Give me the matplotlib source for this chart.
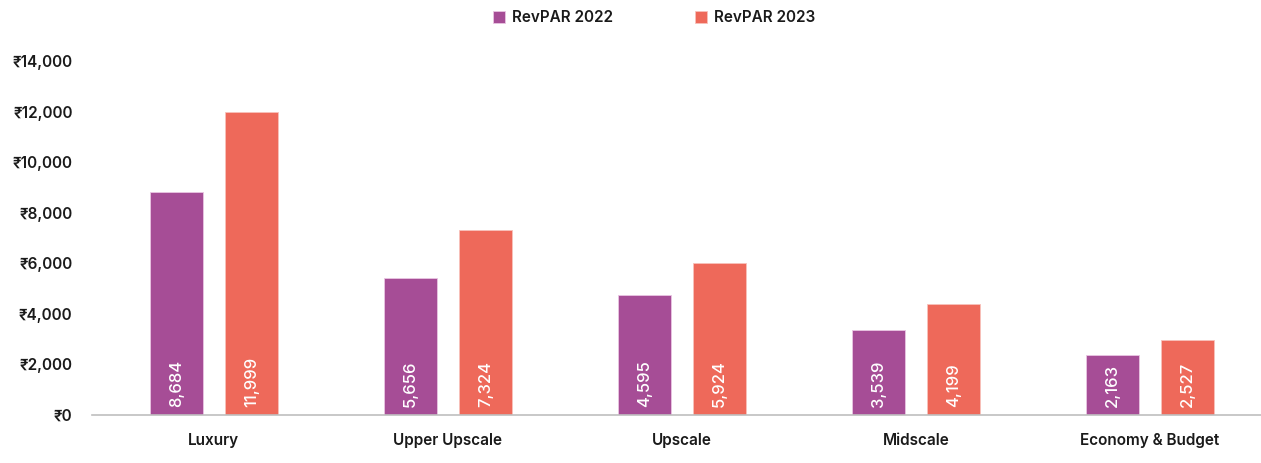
import numpy as np
import matplotlib
matplotlib.use("Agg")
import matplotlib.pyplot as plt
from matplotlib.ticker import FuncFormatter

# ==========================
# DATA
# ==========================

categories = ["Luxury", "Upper Upscale", "Upscale", "Midscale", "Economy & Budget"]
series_names = ["RevPAR 2022", "RevPAR 2023"]

# bar heights as drawn in the picture
heights_2022 = [8810, 5400, 4755, 3370, 2360]
heights_2023 = [12000, 7300, 5995, 4390, 2965]

# numbers printed inside the bars
labels_2022 = ["8,684", "5,656", "4,595", "3,539", "2,163"]
labels_2023 = ["11,999", "7,324", "5,924", "4,199", "2,527"]

y_ticks = [0, 2000, 4000, 6000, 8000, 10000, 12000, 14000]

# ==========================
# STYLE
# ==========================

plt.rcParams["font.family"] = ["Inter", "DejaVu Sans"]

PURPLE = "#A64D96"
CORAL = "#EE695A"
TEXT = "#1a1a1a"
WEIGHT = 600

W, H = 1261, 463
fig = plt.figure(figsize=(W / 100, H / 100), dpi=100)
ax = fig.add_axes([92 / W, 48 / H, 1 - 92 / W, (415 - 61) / H])

x = np.arange(len(categories))
bw = 0.228
off = 0.16

b1 = ax.bar(x - off, heights_2022, bw, color=PURPLE, edgecolor="#e9c6e2", linewidth=0.6)
b2 = ax.bar(x + off, heights_2023, bw, color=CORAL, edgecolor="#f8c2bb", linewidth=0.6)

for bars, labs in [(b1, labels_2022), (b2, labels_2023)]:
    for rect, lab in zip(bars, labs):
        ax.text(rect.get_x() + rect.get_width() / 2, 330, lab,
                rotation=90, ha="center", va="bottom",
                color="white", fontsize=12, fontweight=500)

ax.set_xlim(-0.521, 4.474)
ax.set_ylim(0, 14000)
ax.set_yticks(y_ticks)
ax.yaxis.set_major_formatter(FuncFormatter(lambda v, p: "₹{:,.0f}".format(v)))
ax.set_xticks(x)
ax.set_xticklabels(categories, fontsize=11, fontweight=WEIGHT, color=TEXT)
ax.tick_params(axis="y", labelsize=11, labelcolor=TEXT, length=0, pad=14)
ax.tick_params(axis="x", length=0, pad=13)
for lab in ax.get_yticklabels():
    lab.set_fontweight(WEIGHT)

for side in ["top", "right", "left"]:
    ax.spines[side].set_visible(False)
ax.spines["bottom"].set_color("#BFBFBF")
ax.spines["bottom"].set_linewidth(1.2)

leg = fig.legend([b1, b2], series_names, loc="center", bbox_to_anchor=(654 / W, 1 - 18 / H),
                 ncol=2, frameon=False, fontsize=11, handlelength=0.8, handleheight=0.8,
                 handletextpad=0.45, columnspacing=5.4)
for t in leg.get_texts():
    t.set_fontweight(WEIGHT)
    t.set_color(TEXT)

fig.savefig("out.png", dpi=100)
